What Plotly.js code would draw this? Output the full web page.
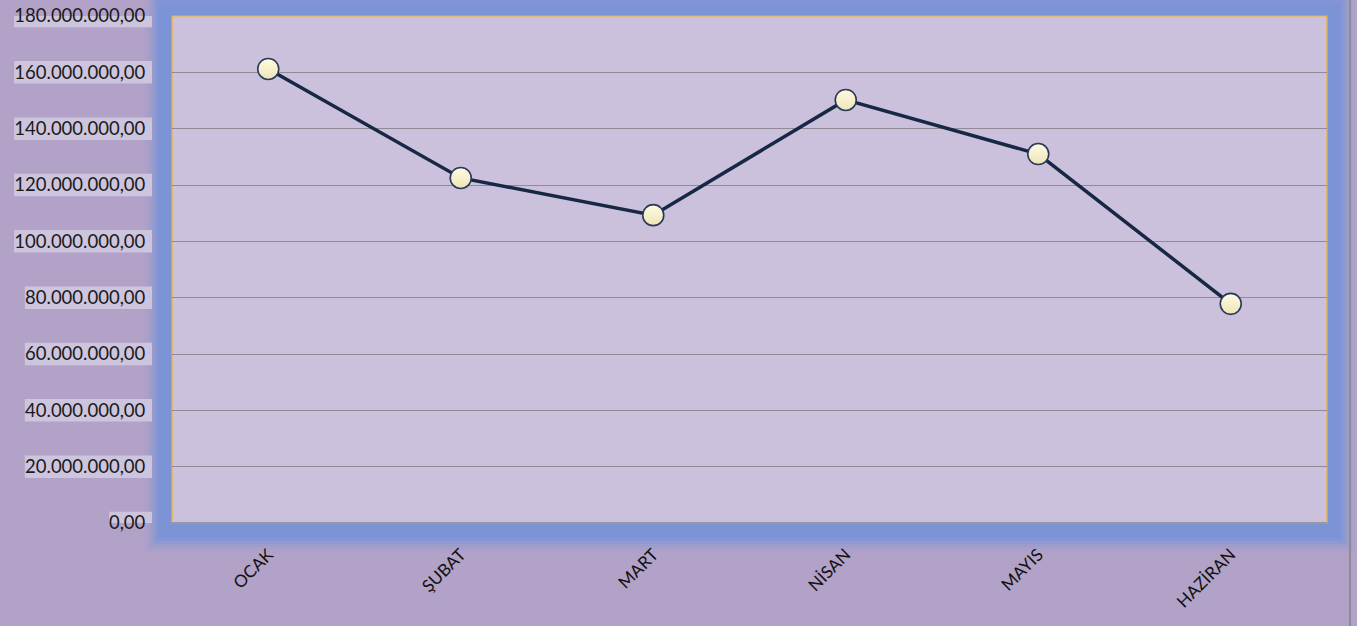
<!DOCTYPE html>
<html>
<head>
<meta charset="utf-8">
<script src="https://cdn.plot.ly/plotly-3.0.1.min.js"></script>
<style>
html,body{margin:0;padding:0;background:#b2a2c8;}
#chart{width:1357px;height:626px;}
</style>
</head>
<body>
<div id="chart"></div>
<script>
const months = ["OCAK", "ŞUBAT", "MART", "NİSAN", "MAYIS", "HAZİRAN"];
const values = [161200000, 122500000, 109300000, 150200000, 131000000, 77800000];
const tickValues = [0, 20000000, 40000000, 60000000, 80000000, 100000000, 120000000, 140000000, 160000000, 180000000];
const tickLabels = ["0,00", "20.000.000,00", "40.000.000,00", "60.000.000,00", "80.000.000,00", "100.000.000,00", "120.000.000,00", "140.000.000,00", "160.000.000,00", "180.000.000,00"];

const W = 1357, H = 626;
const L = 172, R = 30, T = 16, B = 103;
const pw = W - L - R, ph = H - T - B;
const px = d => d / pw, py = d => d / ph;
const yFont = 18.5;

const shapes = [];
// blue glow around plot area
const glow = [[28, 0.08], [25, 0.14], [22, 0.22], [19, 0.4], [16, 0.65], [13, 1]];
glow.forEach(([d, op]) => {
  shapes.push({type: 'rect', xref: 'paper', yref: 'paper', layer: 'below',
    x0: -px(d), x1: 1 + px(d), y0: -py(d + 2), y1: 1 + py(d),
    fillcolor: '#7c94d6', opacity: op, line: {width: 0}});
});
// plot background + border
shapes.push({type: 'rect', xref: 'paper', yref: 'paper', layer: 'below',
  x0: 0, x1: 1, y0: 0, y1: 1, fillcolor: '#cbc1dc', line: {color: '#f0b429', width: 1.2}});
// tick label backgrounds
tickValues.forEach((v, i) => {
  const s = tickLabels[i];
  let w = 0;
  for (const c of s) w += (c === '.' || c === ',') ? yFont * 0.25 : yFont * 0.58;
  w += 6;
  shapes.push({type: 'rect', xref: 'paper', yref: 'y', layer: 'below',
    x0: px(-20 - w), x1: px(-20), y0: v - 4000000, y1: v + 4000000,
    fillcolor: '#cdc4dd', line: {width: 0}});
});
// right window edge
shapes.push({type: 'line', xref: 'paper', yref: 'paper', layer: 'below',
  x0: px(1350 - L), x1: px(1350 - L), y0: py(-(H - T - ph)), y1: 1 + py(T),
  line: {color: '#8c8c98', width: 2}});

const trace = {
  x: months, y: values, type: 'scatter', mode: 'lines+markers',
  line: {color: '#172844', width: 3.5},
  marker: {size: 21, color: '#fffbe3', gradient: {type: 'vertical', color: '#eee5b6'},
    line: {color: '#2a3a58', width: 1.6}},
  hoverinfo: 'x+y', showlegend: false
};

const layout = {
  width: W, height: H,
  margin: {l: L, r: R, t: T, b: B, pad: 0},
  paper_bgcolor: '#b2a2c8',
  plot_bgcolor: 'rgba(0,0,0,0)',
  font: {family: 'Lato, "Open Sans", sans-serif', color: '#1a1a1a'},
  xaxis: {
    type: 'category', range: [-0.5, 5.5], tickangle: -45,
    tickfont: {size: 17, color: '#111'},
    showgrid: false, zeroline: false, showline: false,
    ticks: 'outside', ticklen: 14, tickcolor: 'rgba(0,0,0,0)'
  },
  yaxis: {
    range: [0, 180000000], tickvals: tickValues, ticktext: tickLabels,
    tickfont: {size: yFont, color: '#1a1a1a'},
    showgrid: true, gridcolor: '#8f8a96', gridwidth: 1,
    zeroline: true, zerolinecolor: '#9a97a0', zerolinewidth: 2,
    showline: false, ticks: 'outside', ticklen: 22, tickcolor: 'rgba(0,0,0,0)'
  },
  shapes: shapes
};

Plotly.newPlot('chart', [trace], layout, {displayModeBar: false, staticPlot: true});
</script>
</body>
</html>
